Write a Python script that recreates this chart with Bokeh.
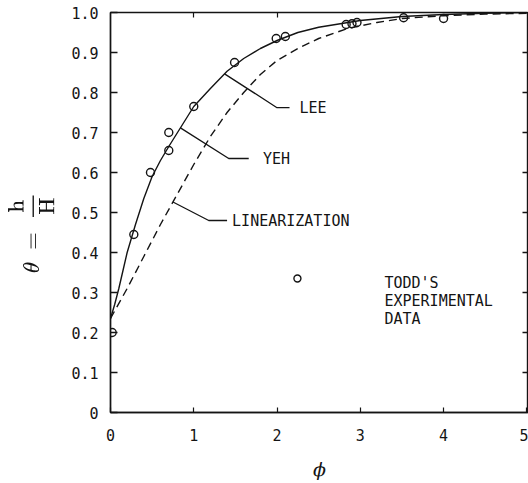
import numpy as np
from bokeh.plotting import figure
from bokeh.models import (FixedTicker, LinearAxis, Range1d, ColumnDataSource,
                          CustomLabelingPolicy)
from bokeh.core.properties import value
from bokeh.embed import file_html
from bokeh.resources import INLINE

# ---- data ----
# Lee / Yeh solution (solid; the two curves coincide at this scale)
solid_phi = [0, 0.05, 0.1, 0.15, 0.2, 0.3, 0.4, 0.5, 0.6, 0.7, 0.85, 1.0, 1.2,
             1.4, 1.6, 1.8, 2.0, 2.25, 2.5, 3.0, 3.5, 4.0, 4.5, 5.0]
solid_theta = [0.235, 0.27, 0.31, 0.355, 0.40, 0.47, 0.535, 0.59, 0.63, 0.665,
               0.715, 0.765, 0.81, 0.853, 0.885, 0.91, 0.93, 0.95, 0.963, 0.98,
               0.99, 0.995, 0.998, 1.0]

# Linearization (dashed)
lin_phi = [0, 0.2, 0.4, 0.6, 0.8, 1.0, 1.2, 1.4, 1.6, 1.8, 2.0, 2.25, 2.5,
           2.85, 3.2, 3.5, 4.0, 4.5, 5.0]
lin_theta = [0.235, 0.31, 0.39, 0.47, 0.545, 0.62, 0.69, 0.75, 0.80, 0.845,
             0.88, 0.91, 0.935, 0.96, 0.975, 0.985, 0.992, 0.996, 0.998]

# Todd's experimental data (circles)
todd_phi = [0.02, 0.28, 0.48, 0.70, 0.70, 1.0, 1.49, 1.99, 2.1, 2.83, 2.9,
            2.96, 3.52, 4.0]
todd_theta = [0.20, 0.445, 0.60, 0.655, 0.70, 0.765, 0.875, 0.935, 0.94, 0.97,
              0.972, 0.975, 0.987, 0.985]

y_ticks = [0, 0.1, 0.2, 0.3, 0.4, 0.5, 0.6, 0.7, 0.8, 0.9, 1.0]
y_tick_labels = ["0", "0.1", "0.2", "0.3", "0.4", "0.5", "0.6", "0.7", "0.8",
                 "0.9", "1.0"]
x_ticks = [0, 1, 2, 3, 4, 5]
x_tick_labels = ["0", "1", "2", "3", "4", "5"]

legend_lines = ["TODD'S", "EXPERIMENTAL", "DATA"]

INK = "#141414"
MONO = "DejaVu Sans Mono"
X_END = 5.02

p = figure(width=528, height=483, x_range=Range1d(0, X_END), y_range=Range1d(0, 1),
           output_backend="svg", toolbar_location=None,
           min_border_left=110, min_border_right=0, min_border_top=12,
           min_border_bottom=71, background_fill_color="white",
           border_fill_color="white")
p.grid.visible = False
p.outline_line_color = INK
p.outline_line_width = 1.4

# left axis
ya = p.yaxis[0]
ya.ticker = FixedTicker(ticks=y_ticks)
ya.major_label_overrides = {t: l for t, l in zip(y_ticks, y_tick_labels)}
ya.major_tick_in = 7
ya.major_tick_out = 0
ya.minor_tick_in = 0
ya.minor_tick_out = 0
ya.major_label_standoff = 12
ya.major_label_text_font = MONO
ya.major_label_text_font_size = "15px"
ya.major_label_text_color = INK
ya.axis_line_color = INK
ya.axis_line_width = 1.4
ya.major_tick_line_color = INK
ya.major_tick_line_width = 1.4
ya.axis_label = r"$$\theta\;=\;\frac{\mathrm{h}}{\mathrm{H}}\hspace{1.8em}$$"
ya.axis_label_text_font_size = "19px"
ya.axis_label_standoff = 14
ya.axis_label_text_color = INK

# bottom axis
xa = p.xaxis[0]
xa.ticker = FixedTicker(ticks=x_ticks)
xa.major_label_overrides = {t: l for t, l in zip(x_ticks, x_tick_labels)}
xa.major_tick_in = 5
xa.major_tick_out = 0
xa.minor_tick_in = 0
xa.minor_tick_out = 0
xa.major_label_standoff = 16
xa.major_label_text_font = MONO
xa.major_label_text_font_size = "15px"
xa.major_label_text_color = INK
xa.axis_line_color = INK
xa.axis_line_width = 1.4
xa.major_tick_line_color = INK
xa.major_tick_line_width = 1.2
xa.axis_label = "ϕ"
xa.axis_label_text_font = "DejaVu Serif"
xa.axis_label_text_font_style = "italic"
xa.axis_label_text_font_size = "19px"
xa.axis_label_standoff = 14
xa.axis_label_text_color = INK

# top and right axes: inward ticks only, no labels, drawn on the frame edges
no_labels = CustomLabelingPolicy(
    code="for (const i of Array.from(indices)) { indices.unset(i) }\nreturn indices")
top = LinearAxis(ticker=FixedTicker(ticks=[1, 2]), major_tick_in=5, major_tick_out=0,
                 minor_tick_in=0, minor_tick_out=0, major_label_standoff=0,
                 major_label_policy=no_labels, axis_line_color=INK,
                 major_tick_line_color=INK, major_tick_line_width=1.2,
                 fixed_location=1.0)
p.add_layout(top, "above")
right = LinearAxis(ticker=FixedTicker(ticks=y_ticks[1:-1]), major_tick_in=6,
                   major_tick_out=0, minor_tick_in=0, minor_tick_out=0,
                   major_label_standoff=0, major_label_policy=no_labels,
                   axis_line_color=INK, major_tick_line_color=INK,
                   major_tick_line_width=1.4, fixed_location=X_END)
p.add_layout(right, "right")

# curves
p.line(solid_phi, solid_theta, line_color=INK, line_width=1.4)
p.line(lin_phi, lin_theta, line_color=INK, line_width=1.4, line_dash="8 5")

# experimental points
p.scatter(todd_phi, todd_theta, marker="circle", size=8, fill_color="white",
          fill_alpha=0.0, line_color=INK, line_width=1.4)

# leader lines with labels: (label, curve, phi on curve, elbow, end phi, text phi)
leaders = [
    ("LEE", (solid_phi, solid_theta), 1.37, (2.0, 0.762), 2.15, 2.27),
    ("YEH", (solid_phi, solid_theta), 0.84, (1.42, 0.635), 1.66, 1.83),
    ("LINEARIZATION", (lin_phi, lin_theta), 0.75, (1.18, 0.48), 1.40, 1.46),
]
for label, (cx, cy), ph0, (ex, ey), endx, tx in leaders:
    y0 = float(np.interp(ph0, cx, cy))
    p.line([ph0, ex, endx], [y0, ey, ey], line_color=INK, line_width=1.3)
    p.text([tx], [ey], text=[label], text_font=value(MONO),
           text_font_size="15px", text_baseline="middle", text_align="left",
           text_color=INK)

# legend for experimental data
p.scatter([2.245], [0.335], marker="circle", size=7, fill_alpha=0.0,
          line_color=INK, line_width=1.4)
leg = ColumnDataSource(dict(x=[3.29] * 3, y=[0.325, 0.278, 0.235], t=legend_lines))
p.text("x", "y", text="t", source=leg, text_font=value(MONO),
       text_font_size="15px", text_baseline="middle", text_align="left",
       text_color=INK)

open("out.html", "w").write(file_html(p, INLINE))
